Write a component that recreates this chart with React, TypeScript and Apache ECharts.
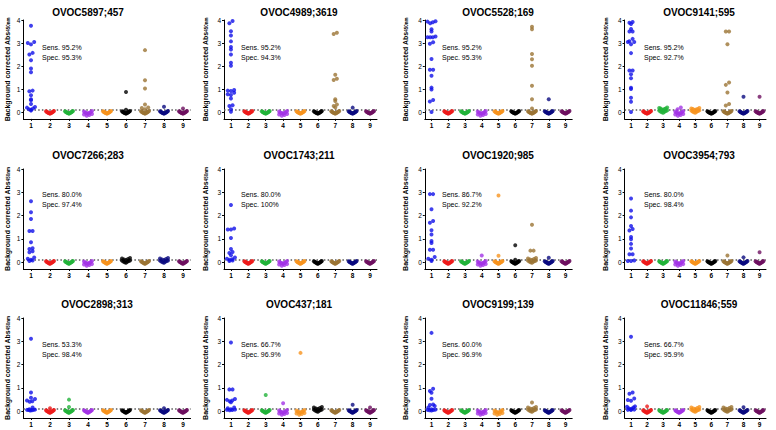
import React, { useEffect, useRef } from 'react';
import * as echarts from 'echarts';

const categories = ['1', '2', '3', '4', '5', '6', '7', '8', '9'];
const yTicks = [0, 1, 2, 3, 4];
const cutoff = 0.1;
const colors = ['#1010e8', '#ee1c1c', '#22b33a', '#a333e6', '#f7931e', '#000000', '#9b7434', '#0a0a80', '#6e1060'];

const panelTitles = [
  'OVOC5897;457', 'OVOC4989;3619', 'OVOC5528;169', 'OVOC9141;595',
  'OVOC7266;283', 'OVOC1743;211', 'OVOC1920;985', 'OVOC3954;793',
  'OVOC2898;313', 'OVOC437;181', 'OVOC9199;139', 'OVOC11846;559',
];
const sensLabels = ['95.2%', '95.2%', '95.2%', '95.2%', '80.0%', '80.0%', '86.7%', '80.0%', '53.3%', '66.7%', '60.0%', '66.7%'];
const specLabels = ['95.3%', '94.3%', '95.3%', '92.7%', '97.4%', '100%', '92.2%', '98.4%', '98.4%', '96.9%', '96.9%', '95.9%'];

// near-zero control cluster shapes
const clusterNormal = [-0.07, -0.06, -0.05, -0.04, -0.03, -0.02, -0.02, -0.01, 0, 0.01, 0.02, 0.03, 0.04];
const clusterDeep = [-0.16, -0.13, -0.11, -0.09, -0.07, -0.05, -0.04, -0.03, -0.02, 0, 0.02, 0.04];
const clusterHigh = [-0.03, -0.01, 0.01, 0.02, 0.04, 0.06, 0.07, 0.09, 0.11, 0.13, 0.15, 0.17];

// category 1 (cases) per panel
const p1Cases = [3.75, 3.04, 3.0, 2.94, 2.57, 2.5, 2.25, 1.89, 1.73, 0.93, 0.9, 0.73, 0.55, 0.51, 0.35, 0.22, 0.19, 0.15, 0.12, 0.1, 0.06];
const p2Cases = [3.96, 3.86, 3.51, 3.33, 3.07, 2.83, 2.72, 2.5, 2.14, 2.01, 0.96, 0.93, 0.91, 0.84, 0.77, 0.74, 0.59, 0.29, 0.26, 0.12, 0.01];
const p3Cases = [3.95, 3.93, 3.9, 3.86, 3.6, 3.5, 3.28, 3.25, 3.25, 3.25, 3.03, 2.97, 2.3, 1.84, 1.84, 1.58, 1.06, 0.98, 0.52, 0.46, 0.0];
const p4Cases = [3.91, 3.88, 3.83, 3.61, 3.5, 3.5, 3.18, 3.08, 3.04, 3.04, 2.95, 2.56, 1.8, 1.8, 1.64, 1.47, 1.05, 1.0, 0.62, 0.45, 0.0];
const p5Cases = [2.61, 2.14, 1.85, 1.33, 1.33, 0.85, 0.59, 0.56, 0.46, 0.42, 0.19, 0.14, 0.1, 0.07, 0.04];
const p6Cases = [2.45, 1.44, 1.4, 1.4, 1.03, 0.56, 0.43, 0.39, 0.29, 0.19, 0.14, 0.12, 0.1, 0.07, 0.04];
const p7Cases = [2.92, 2.92, 2.27, 1.76, 1.69, 1.37, 1.18, 0.9, 0.82, 0.53, 0.53, 0.22, 0.14, 0.1, 0.04];
const p8Cases = [2.73, 2.21, 1.92, 1.55, 1.42, 1.36, 1.08, 0.98, 0.78, 0.58, 0.33, 0.33, 0.07, 0.04, 0.04];
const p9Cases = [3.11, 0.8, 0.57, 0.52, 0.45, 0.42, 0.4, 0.15, 0.08, 0.06, 0.05, 0.05, 0.04, 0.03, 0.02];
const p10Cases = [2.95, 0.93, 0.93, 0.52, 0.48, 0.45, 0.42, 0.38, 0.15, 0.12, 0.08, 0.06, 0.05, 0.04, 0.03];
const p11Cases = [3.36, 0.96, 0.86, 0.79, 0.53, 0.28, 0.26, 0.22, 0.15, 0.08, 0.06, 0.05, 0.04, 0.03, 0.02];
const p12Cases = [3.19, 0.8, 0.74, 0.54, 0.47, 0.44, 0.2, 0.18, 0.15, 0.12, 0.1, 0.08, 0.06, 0.05, 0.04];

// elevated control values, categories 2..9
const p1Outliers = [[], [], [], [], [0.87, 0.1], [2.69, 1.38, 1.02, 0.33, 0.2, 0.17, 0.12], [0.23], [0.15]];
const p2Outliers = [[], [], [], [], [], [3.45, 3.39, 1.62, 1.45, 1.39, 0.55, 0.48, 0.33, 0.26, 0.2], [0.19], []];
const p3Outliers = [[], [], [], [], [], [3.71, 3.6, 2.52, 2.29, 2.01, 1.14, 0.55, 0.15], [0.55], []];
const p4Outliers = [[], [0.2, 0.15], [0.2, 0.12], [0.13], [], [3.5, 3.5, 2.95, 1.28, 1.18, 0.85, 0.35, 0.28], [0.66], [0.66]];
const p5Outliers = [[], [], [], [], [], [], [], []];
const p6Outliers = [[], [], [], [], [], [], [], []];
const p7Outliers = [[], [], [0.28], [2.86, 0.27], [0.72, 0.1], [1.6, 0.49, 0.49], [0.18], []];
const p8Outliers = [[], [], [], [], [], [0.28], [0.2], [0.42]];
const p9Outliers = [[0.12], [0.49, 0.17], [], [], [], [], [0.12], []];
const p10Outliers = [[], [0.69], [0.33], [2.5], [], [], [0.27], [0.15]];
const p11Outliers = [[], [], [], [], [], [0.37], [], []];
const p12Outliers = [[0.2], [], [], [], [], [], [0.16], []];

// cluster shape per control category 2..9 (n normal, d deep, h high)
const p1Shape = 'nndnnnnn';
const p2Shape = 'nndnnnnn';
const p3Shape = 'nndnnnnn';
const p4Shape = 'nhdhnnnn';
const p5Shape = 'nndnhnhn';
const p6Shape = 'nndnnnnn';
const p7Shape = 'nndnnhnn';
const p8Shape = 'nndnnnnn';
const p9Shape = 'nnnnnnnn';
const p10Shape = 'nnddhnnn';
const p11Shape = 'nnddnhnn';
const p12Shape = 'nnnhnhnn';

const allCases = [p1Cases, p2Cases, p3Cases, p4Cases, p5Cases, p6Cases, p7Cases, p8Cases, p9Cases, p10Cases, p11Cases, p12Cases];
const allOutliers = [p1Outliers, p2Outliers, p3Outliers, p4Outliers, p5Outliers, p6Outliers, p7Outliers, p8Outliers, p9Outliers, p10Outliers, p11Outliers, p12Outliers];
const allShapes = [p1Shape, p2Shape, p3Shape, p4Shape, p5Shape, p6Shape, p7Shape, p8Shape, p9Shape, p10Shape, p11Shape, p12Shape];

// layout
const colLeft = [23.4, 224, 424.8, 624.6];
const colWidth = [167.2, 153, 147.4, 141.4];
const rowTop = [20, 169, 318];
const rowHeight = [98.9, 100, 100];
const nameGaps = [12, 15.5, 16.3, 16];
const titleX = [[88, 299, 498, 699], [88, 299, 498, 699], [97, 299, 498, 699]];
const titleY = [12, 155, 304];
const sensX = [42, 241, 442, 644];
const sensY = [47, 194, 344];
const X_MIN = 0.6;
const X_MAX = 9.4;
const Y_MIN = -0.3;
const Y_MAX = 4;
const FONT = 'Liberation Sans, Arial, Helvetica, sans-serif';

function swarm(vals: number[], cat: number, ux: number, uy: number): number[][] {
  const binPx = 3.6;
  const D = 3.2;
  const maxW = 8;
  const bins = new Map<number, number[]>();
  vals.forEach((v) => {
    const k = Math.round((v * uy) / binPx);
    if (!bins.has(k)) bins.set(k, []);
    bins.get(k)!.push(v);
  });
  const out: number[][] = [];
  bins.forEach((list) => {
    list.sort((a, b) => a - b);
    const n = list.length;
    const sp = n > 1 ? Math.min(D, maxW / (n - 1)) : 0;
    const slots: number[] = [];
    for (let j = 0; j < n; j++) slots.push(j - (n - 1) / 2);
    slots.sort((a, b) => Math.abs(a) - Math.abs(b) || a - b);
    list.forEach((v, i) => out.push([cat + (slots[i] * sp) / ux, v]));
  });
  return out;
}

function buildOption() {
  const grid: any[] = [];
  const xAxis: any[] = [];
  const yAxis: any[] = [];
  const series: any[] = [];
  const graphic: any[] = [];
  const catNums = categories.map((_, i) => i + 1);

  for (let p = 0; p < 12; p++) {
    const r = Math.floor(p / 4);
    const c = p % 4;
    const w = colWidth[c];
    const h = rowHeight[r];
    const ux = w / (X_MAX - X_MIN);
    const uy = h / (Y_MAX - Y_MIN);
    grid.push({ left: colLeft[c], top: rowTop[r], width: w, height: h });
    xAxis.push({
      type: 'value', gridIndex: p, min: X_MIN, max: X_MAX,
      axisLine: { onZero: false, lineStyle: { color: '#000', width: 1 } },
      axisTick: { show: true, customValues: catNums, length: 2, lineStyle: { color: '#000' } },
      axisLabel: {
        customValues: catNums, formatter: (v: number) => categories[Math.round(v) - 1],
        fontSize: 6.5, fontWeight: 'bold', color: '#000', margin: 3, fontFamily: FONT,
      },
      splitLine: { show: false },
    });
    yAxis.push({
      type: 'value', gridIndex: p, min: Y_MIN, max: Y_MAX,
      axisLine: { show: true, onZero: false, lineStyle: { color: '#000', width: 1 } },
      axisTick: { show: true, customValues: yTicks, length: 2, lineStyle: { color: '#000' } },
      axisLabel: { customValues: yTicks, fontSize: 6.5, color: '#000', margin: 3, fontFamily: FONT },
      splitLine: { show: false },
      name: 'Background corrected Abs{sub|450nm}',
      nameLocation: 'middle', nameRotate: 90, nameGap: nameGaps[c],
      nameTextStyle: {
        fontSize: 7, fontWeight: 'bold', color: '#000', fontFamily: FONT,
        rich: { sub: { fontSize: 4.5, fontWeight: 'bold', color: '#000', fontFamily: FONT, verticalAlign: 'bottom' } },
      },
    });

    const groups: number[][] = [allCases[p]];
    for (let k = 0; k < 8; k++) {
      const s = allShapes[p][k];
      const base = s === 'd' ? clusterDeep : s === 'h' ? clusterHigh : clusterNormal;
      groups.push(base.concat(allOutliers[p][k]));
    }
    groups.forEach((vals, ci) => {
      const ser: any = {
        type: 'scatter', xAxisIndex: p, yAxisIndex: p,
        symbol: 'circle', symbolSize: 4,
        itemStyle: { color: colors[ci] },
        data: swarm(vals, ci + 1, ux, uy),
        silent: true,
      };
      if (ci === 0) {
        ser.markLine = {
          silent: true, symbol: 'none', label: { show: false },
          lineStyle: { type: [1.5, 2.2], color: '#5a5a5a', width: 1.5 },
          data: [{ yAxis: cutoff }],
          z: 1,
        };
      }
      series.push(ser);
    });

    graphic.push({
      type: 'text', x: titleX[r][c], y: titleY[r],
      style: { text: panelTitles[p], fontSize: 10, fontWeight: 'bold', fontFamily: FONT, fill: '#000', align: 'center', verticalAlign: 'middle' },
    });
    graphic.push({
      type: 'text', x: sensX[c], y: sensY[r] - 5,
      style: {
        text: 'Sens. ' + sensLabels[p] + '\nSpec. ' + specLabels[p],
        fontSize: 7, lineHeight: 10, fontFamily: FONT, fill: '#000', align: 'left', verticalAlign: 'top',
      },
    });
  }

  return {
    animation: false,
    backgroundColor: '#ffffff',
    textStyle: { fontFamily: FONT },
    grid, xAxis, yAxis, series, graphic,
  };
}

export default function App() {
  const ref = useRef<HTMLDivElement>(null);
  useEffect(() => {
    if (!ref.current) return;
    const chart = echarts.init(ref.current, undefined, { renderer: 'svg' });
    chart.setOption(buildOption() as any);
    return () => chart.dispose();
  }, []);
  return <div ref={ref} style={{ position: 'fixed', left: 0, top: 0, width: 776, height: 430 }} />;
}
